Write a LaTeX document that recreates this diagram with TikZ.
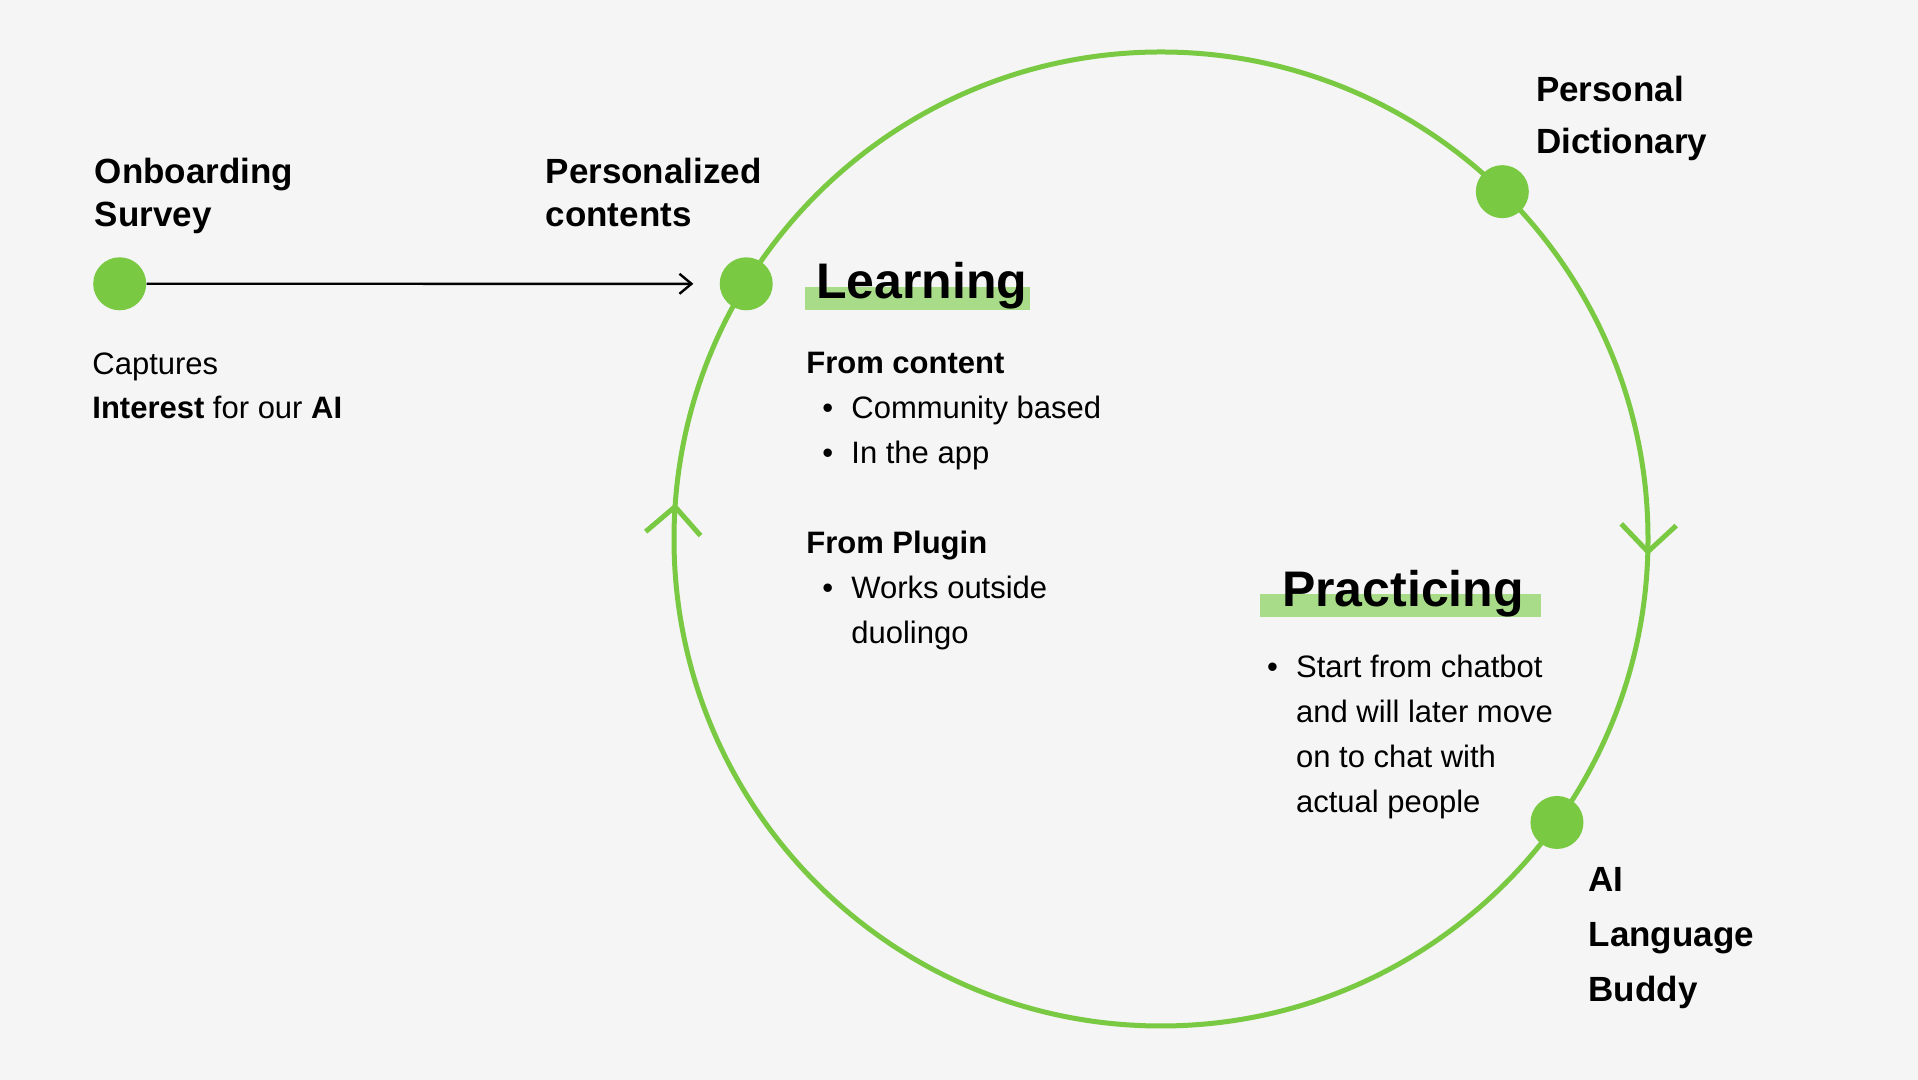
\documentclass[tikz,border=0pt]{standalone}
\usepackage{fontspec}
\setmainfont{Liberation Sans}
\usetikzlibrary{arrows.meta,decorations.markings}
\definecolor{leaf}{HTML}{7AC943}
\definecolor{leaflight}{HTML}{A9DC89}
\definecolor{paper}{HTML}{F5F5F5}
\newcommand{\bul}{\hspace*{8pt}\makebox[14.5pt][l]{\textbullet}}
\begin{document}
\begin{tikzpicture}[x=0.5pt, y=0.5pt,
        dot/.style={circle, fill=leaf, inner sep=0pt, minimum size=26.5pt},
        head/.style={anchor=base west, align=left, inner sep=0pt, font=\fontsize{17.5}{21.75}\selectfont\bfseries},
        body/.style={anchor=base west, align=left, inner sep=0pt, font=\fontsize{15.5}{22.5}\selectfont},
        title/.style={anchor=base west, inner sep=0pt, font=\fontsize{25}{30}\selectfont\bfseries},
        loopline/.style={draw=leaf, line width=2.5pt}]
        \fill[paper] (0,0) rectangle (1918,1080);
        \coordinate (hub) at (1161,541);
        \draw[loopline, postaction={decorate}, decoration={markings,
            mark=at position 0.2553 with {\arrow{Straight Barb[length=13.5pt, width=27.5pt]}},
            mark=at position 0.7617 with {\arrow{Straight Barb[length=13.5pt, width=27.5pt]}}}]
            ([shift={(90:487)}]hub) arc[start angle=90, end angle=-270, radius=487];
        \node[dot] at ([shift={(148.4:487)}]hub) (learn) {};
        \node[dot] at ([shift={(45.5:487)}]hub) (dict) {};
        \node[dot] at ([shift={(-35.6:487)}]hub) (buddy) {};
        \node[dot] at (119.7,796.2) (onb) {};
        \draw[line width=1.2pt, -{Straight Barb[length=6pt, width=10pt]}, shorten >=13pt] (onb) -- (learn);
        \node[head] at (94.4,853.3) (onbhead) {Onboarding\\Survey};
        \node[head] at (545.3,853.3) (perhead) {Personalized\\contents};
        \node[body, font=\fontsize{15.5}{21.7}\selectfont] at (92,661.7) (onbnote) {Captures\\\textbf{Interest} for our \textbf{AI}};
        \fill[leaflight] (805,770) rectangle (1030,793);
        \node[title] at (815.6,781.7) (learntitle) {Learning};
        \node[body] at (806,436.7) (learnbody) {\textbf{From content}\\\bul Community based\\\bul In the app\\[22.5pt]\textbf{From Plugin}\\\bul Works outside\\\hspace*{22.5pt}duolingo};
        \fill[leaflight] (1260,463.3) rectangle (1540.7,486);
        \node[title] at (1281.7,473.3) (practitle) {Practicing};
        \node[body] at (1250.7,267.7) (pracbody) {\bul Start from chatbot\\\hspace*{22.5pt}and will later move\\\hspace*{22.5pt}on to chat with\\\hspace*{22.5pt}actual people};
        \node[head, font=\fontsize{17.5}{25.8}\selectfont\bfseries] at (1535.7,926.7) (dicthead) {Personal\\Dictionary};
        \node[head, font=\fontsize{17.5}{27.5}\selectfont\bfseries] at (1588.3,78.3) (buddyhead) {AI\\Language\\Buddy};
\end{tikzpicture}
\end{document}
